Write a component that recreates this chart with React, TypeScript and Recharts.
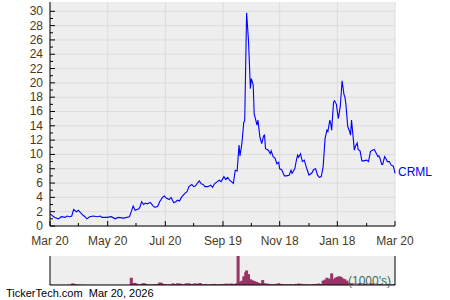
import React from 'react';
import { LineChart, Line, XAxis, YAxis, CartesianGrid, BarChart, Bar } from 'recharts';

const FONT = '"Liberation Sans", Arial, sans-serif';
const AXIS_TEXT = '#4b3a17';

// x positions are day offsets from Mar 20 (start) to Mar 20 (end)
const xMajorTicks = [0, 61, 122, 183, 243, 304, 365];
const xMinorTicks = [30, 91, 152, 213, 274, 335];
const xTickLabels = ['Mar 20', 'May 20', 'Jul 20', 'Sep 19', 'Nov 18', 'Jan 18', 'Mar 20'];
const yTicks = [0, 1, 2, 3, 4, 5, 6, 7, 8, 9, 10, 11, 12, 13, 14, 15, 16, 17, 18, 19, 20, 21, 22, 23, 24, 25, 26, 27, 28, 29, 30];
const yLabelTicks = [0, 2, 4, 6, 8, 10, 12, 14, 16, 18, 20, 22, 24, 26, 28, 30];

const priceDays = [
  0, 5, 9, 12, 16, 18, 21, 23, 25, 28,
  30, 32, 35, 37, 39, 42, 46, 50, 53, 55,
  60, 65, 69, 72, 78, 84, 86, 88, 90, 94,
  95, 97, 99, 101, 103, 106, 109, 111, 114, 116,
  119, 121, 123, 126, 128, 131, 133, 135, 137, 139,
  141, 143, 145, 147, 150, 152, 154, 156, 158, 160,
  162, 164, 167, 170, 172, 174, 177, 179, 181, 184,
  186, 188, 190, 192, 194, 196, 198, 200, 201, 203,
  205, 206, 208, 210, 212, 213, 215, 216, 219, 220,
  222, 224, 226, 227, 228, 231, 233, 234, 236, 238,
  240, 242, 243, 245, 248, 250, 253, 255, 256, 259,
  261, 262, 263, 265, 267, 269, 271, 272, 274, 277,
  279, 281, 283, 285, 287, 289, 291, 293, 294, 296,
  297, 298, 300, 301, 303, 305, 307, 308, 309, 311,
  312, 313, 315, 317, 318, 319, 320, 322, 323, 325,
  326, 328, 330, 332, 335, 337, 339, 341, 343, 345,
  347, 348, 349, 351, 352, 354, 355, 357, 359, 361,
  363, 364, 365,
];

const prices = [
  1.7, 1.2, 1.0, 1.3, 1.2, 1.4, 1.3, 1.4, 2.3, 2.0,
  2.2, 1.9, 1.5, 1.3, 1.0, 1.3, 1.4, 1.3, 1.4, 1.2,
  1.2, 1.3, 1.0, 1.2, 1.1, 1.3, 2.0, 2.8, 2.2, 2.4,
  2.6, 3.4, 3.0, 3.2, 3.1, 3.3, 2.8, 2.6, 2.75, 3.4,
  4.0, 4.2, 3.9, 3.7, 4.0, 3.25, 3.4, 3.6, 3.5, 4.0,
  4.3, 4.6, 4.8, 5.5, 5.8, 5.5, 5.6, 6.0, 6.3, 5.9,
  5.8, 5.5, 5.5, 5.7, 5.4, 5.9, 6.2, 6.4, 6.2, 6.9,
  6.5, 6.8, 6.4, 6.2, 5.95, 7.8, 7.7, 11.3, 9.8, 11.5,
  14.5, 14.7, 29.8, 25.9, 19.2, 20.6, 19.7, 15.7, 14.1, 14.8,
  12.5, 11.5, 12.6, 12.7, 10.8, 10.6, 10.1, 10.5, 9.7, 9.5,
  8.7, 8.9, 8.0, 7.9, 7.0, 7.0, 7.1, 7.8, 7.35, 8.0,
  9.4, 9.9, 9.6, 10.1, 9.0, 9.2, 8.3, 7.9, 7.1, 7.4,
  7.9, 8.0, 7.1, 6.8, 6.9, 8.3, 12.2, 13.4, 13.2, 14.8,
  14.3, 13.4, 17.3, 17.5, 17.0, 15.0, 16.6, 18.3, 20.3, 18.4,
  18.0, 17.1, 13.9, 13.2, 12.7, 14.8, 13.4, 10.6, 11.1, 11.6,
  10.7, 10.5, 9.1, 9.1, 9.2, 9.0, 10.4, 10.6, 10.7, 10.2,
  9.7, 9.8, 9.5, 8.6, 8.6, 9.7, 9.5, 9.0, 9.0, 8.5,
  8.4, 8.0, 7.35,
];

const volDays = [
  0, 3, 6, 9, 12, 15, 18, 21, 24, 26,
  29, 32, 35, 38, 41, 44, 47, 50, 53, 56,
  59, 62, 65, 68, 71, 74, 77, 80, 83, 86,
  88, 90, 92, 95, 98, 100, 102, 105, 108, 111,
  114, 116, 118, 121, 124, 127, 130, 132, 135, 138,
  141, 144, 147, 150, 153, 156, 159, 162, 165, 168,
  171, 174, 177, 180, 183, 186, 189, 192, 195, 197,
  199, 201, 203, 205, 207, 208, 210, 212, 214, 216,
  218, 219, 221, 223, 225, 227, 230, 233, 236, 239,
  242, 245, 248, 251, 254, 257, 260, 263, 266, 269,
  272, 275, 278, 281, 284, 287, 289, 291, 293, 295,
  297, 298, 300, 302, 304, 306, 308, 310, 312, 314,
  316, 319, 322, 325, 328, 331, 334, 337, 340, 343,
  346, 349, 352, 355, 358, 361, 364,
];

// volume in thousands of shares
const volumes = [
  1900, 1500, 1200, 1600, 1400, 1100, 1800, 3000, 9000, 6000,
  3500, 2500, 1800, 1500, 1200, 1400, 1100, 1300, 1000, 1200,
  900, 1100, 1000, 1200, 900, 1000, 1100, 1300, 1500, 40000,
  11000, 12000, 7000, 4000, 9000, 9500, 5000, 3500, 4000, 5000,
  6000, 14000, 12000, 6000, 4000, 5000, 9000, 6000, 9500, 8000,
  5000, 9500, 10000, 6000, 9000, 8000, 11000, 5000, 6000, 4000,
  5000, 6000, 4500, 5000, 6000, 8000, 7000, 8200, 6000, 9000,
  159297, 18000, 24000, 48000, 70000, 79800, 60000, 32000, 26000, 22500,
  18000, 16000, 11000, 9000, 27300, 10000, 8000, 6000, 5000, 6500,
  9800, 6000, 5000, 4500, 5000, 4000, 6000, 8200, 7000, 5000,
  4500, 4000, 5000, 6000, 8200, 6000, 24000, 30000, 40000, 35000,
  30000, 63900, 32000, 40000, 45000, 48000, 44800, 36000, 32000, 24000,
  13000, 10000, 9000, 8000, 11000, 9000, 7000, 8000, 10000, 8000,
  7000, 6000, 7000, 5000, 6000, 5000, 4800,
];

const volMin = 287;
const volMax = 159297;
const seriesName = 'CRML';
const footerText = 'TickerTech.com  Mar 20, 2026';
const volUnitText = "(1000's)";

const priceData = priceDays.map((d, i) => ({ d, p: prices[i] }));
const volData = volDays.map((d, i) => ({ d, v: volumes[i] }));
const xAllTicks = [...xMajorTicks, ...xMinorTicks].sort((a, b) => a - b);
const lastIndex = prices.length - 1;

const XTick = (props: any) => {
  const { x, y, payload } = props;
  const idx = xMajorTicks.indexOf(payload.value);
  const major = idx >= 0;
  return (
    <g>
      <line x1={x} x2={x} y1={y} y2={y - (major ? 5 : 3)} stroke="#000" />
      {major && (
        <text x={x} y={y + 19} textAnchor="middle" fontSize={12} fontFamily={FONT} fill={AXIS_TEXT}>
          {xTickLabels[idx]}
        </text>
      )}
    </g>
  );
};

const YTick = (props: any) => {
  const { x, y, payload } = props;
  const major = yLabelTicks.indexOf(payload.value) >= 0;
  return (
    <g>
      <line x1={x} x2={x + (major ? 5 : 3)} y1={y} y2={y} stroke="#000" />
      {major && (
        <text x={x - 7} y={y + 4} textAnchor="end" fontSize={12} fontFamily={FONT} fill={AXIS_TEXT}>
          {payload.value}
        </text>
      )}
    </g>
  );
};

const VolTick = (props: any) => {
  const { x, y, payload } = props;
  const top = payload.value === volMax;
  return (
    <text x={x + 3} y={top ? y + 10.5 : y + 1} textAnchor="start" fontSize={12} fontFamily={FONT} fill={AXIS_TEXT}>
      {payload.value}
    </text>
  );
};

const VolBar = (props: any) => {
  const { x, y, width, height } = props;
  if (!(height > 0)) return <g />;
  const cx = x + width / 2;
  return <rect x={cx - 1.5} y={y} width={3} height={height} fill="#993366" />;
};

const SeriesLabel = (props: any) => {
  if (props.index !== lastIndex) return <g />;
  return (
    <text x={props.x + 3} y={props.y + 3} fontSize={12} fontFamily={FONT} fill="#0000ee">
      {seriesName}
    </text>
  );
};

export default function App() {
  return (
    <div style={{ position: 'absolute', left: 0, top: 0, width: 450, height: 300, background: '#fff' }}>
      <div style={{ position: 'absolute', left: 0, top: 0 }}>
        <LineChart width={450} height={250} data={priceData} margin={{ top: 2, right: 55, bottom: 0, left: 0 }}>
          <CartesianGrid
            fill="#eeeeee"
            fillOpacity={1}
            stroke="#dcdcdc"
            horizontalValues={yLabelTicks}
            verticalValues={xMajorTicks}
          />
          <XAxis
            dataKey="d"
            type="number"
            domain={[0, 365]}
            ticks={xAllTicks}
            interval={0}
            tickLine={false}
            tickSize={0}
            tickMargin={0}
            height={24}
            axisLine={{ stroke: '#000' }}
            tick={<XTick />}
          />
          <YAxis
            type="number"
            domain={[0, 31.3]}
            ticks={yTicks}
            interval={0}
            tickLine={false}
            tickSize={0}
            tickMargin={0}
            width={50}
            axisLine={{ stroke: '#000' }}
            tick={<YTick />}
          />
          <Line
            type="linear"
            dataKey="p"
            stroke="#0000ff"
            strokeWidth={1.1}
            dot={false}
            isAnimationActive={false}
            label={<SeriesLabel />}
          />
        </LineChart>
      </div>
      <div style={{ position: 'absolute', left: 0, top: 250 }}>
        <BarChart width={450} height={40} data={volData} margin={{ top: 6, right: 0, bottom: 0, left: 0 }}>
          <CartesianGrid fill="#eeeeee" fillOpacity={1} horizontal={false} vertical={false} />
          <XAxis
            dataKey="d"
            type="number"
            domain={[0, 365]}
            tick={false}
            tickLine={false}
            height={5}
            axisLine={{ stroke: '#000' }}
          />
          <XAxis
            xAxisId="t"
            orientation="top"
            dataKey="d"
            type="number"
            domain={[0, 365]}
            tick={false}
            tickLine={false}
            height={0}
            axisLine={{ stroke: '#000' }}
          />
          <YAxis
            yAxisId="l"
            type="number"
            domain={[volMin, volMax]}
            tick={false}
            tickLine={false}
            width={50}
            axisLine={{ stroke: '#000' }}
          />
          <YAxis
            yAxisId="r"
            orientation="right"
            type="number"
            domain={[volMin, volMax]}
            ticks={[volMin, volMax]}
            interval={0}
            tickLine={false}
            tickSize={0}
            tickMargin={0}
            width={55}
            axisLine={{ stroke: '#000' }}
            tick={<VolTick />}
          />
          <Bar dataKey="v" yAxisId="l" fill="#993366" shape={<VolBar />} isAnimationActive={false} />
        </BarChart>
      </div>
      <svg width={450} height={300} style={{ position: 'absolute', left: 0, top: 0, pointerEvents: 'none' }}>
        <text x={348} y={285} fontSize={12} fontFamily={FONT} fill="#3a6e55">
          {volUnitText}
        </text>
        <text x={6} y={297} fontSize={11} fontFamily={FONT} fill="#000" style={{ whiteSpace: 'pre' }}>
          {footerText}
        </text>
      </svg>
    </div>
  );
}
